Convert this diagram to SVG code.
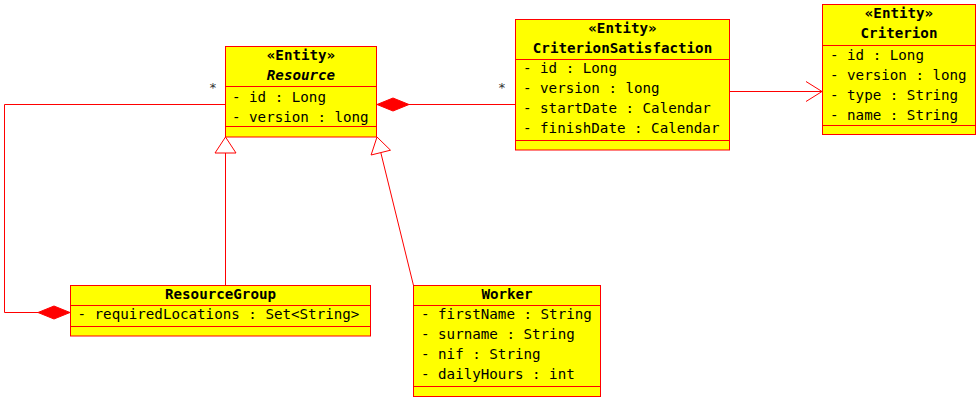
<svg xmlns="http://www.w3.org/2000/svg" width="979" height="402" viewBox="0 0 979 402">
<style>
.box{fill:#ffff00;stroke:#ff0000;stroke-width:1}
.sep{stroke:#ff0000;stroke-width:1}
text{font-family:"DejaVu Sans Mono","Liberation Mono",monospace;font-size:14.2px;fill:#000}
.t{font-weight:bold;text-anchor:middle}
.ti{font-weight:bold;font-style:italic;text-anchor:middle}
.star{font-size:13px;text-anchor:middle;fill:#333}
.ln{fill:none;stroke:#ff0000;stroke-width:1}
.dia{fill:#ff0000;stroke:#ff0000;stroke-width:1}
.tri{fill:#fff;stroke:#ff0000;stroke-width:1}
</style>
<rect width="979" height="402" fill="#fff"/>
<g id="connectors">
<line class="ln" x1="409" y1="104.5" x2="515" y2="104.5"/>
<polygon class="dia" points="377,104.5 393,98 409,104.5 393,111"/>
<text class="star" x="502" y="92">*</text>
<polyline class="ln" points="225,104.5 4.5,104.5 4.5,312.5 38,312.5"/>
<polygon class="dia" points="70,312.5 54,306 38,312.5 54,319"/>
<text class="star" x="213" y="92">*</text>
<line class="ln" x1="729.5" y1="91.5" x2="822" y2="91.5"/>
<polyline class="ln" points="806,81.5 822,91.5 806,101.5"/>
<line class="ln" x1="225.5" y1="153" x2="225.5" y2="285.5"/>
<polygon class="tri" points="225.5,137 236,153 215,153"/>
<line class="ln" x1="380.8" y1="152.6" x2="413.5" y2="285.5"/>
<polygon class="tri" points="377,137 390.5,150.2 371.1,155"/>
</g>
<g id="Resource">
<rect class="box" x="225.5" y="46.5" width="151" height="90.5"/>
<line class="sep" x1="225.5" y1="86.5" x2="376.5" y2="86.5"/>
<line class="sep" x1="225.5" y1="126.5" x2="376.5" y2="126.5"/>
<text class="t" x="301" y="60">«Entity»</text>
<text class="ti" x="301" y="80">Resource</text>
<text x="232" y="102">- id : Long</text>
<text x="232" y="122">- version : long</text>
</g>
<g id="CriterionSatisfaction">
<rect class="box" x="515.5" y="19.5" width="214" height="130.5"/>
<line class="sep" x1="515.5" y1="59.5" x2="729.5" y2="59.5"/>
<line class="sep" x1="515.5" y1="140.5" x2="729.5" y2="140.5"/>
<text class="t" x="622.5" y="33">«Entity»</text>
<text class="t" x="622.5" y="53">CriterionSatisfaction</text>
<text x="523" y="73">- id : Long</text>
<text x="523" y="93">- version : long</text>
<text x="523" y="113">- startDate : Calendar</text>
<text x="523" y="133">- finishDate : Calendar</text>
</g>
<g id="Criterion">
<rect class="box" x="822.5" y="4.5" width="153" height="130"/>
<line class="sep" x1="822.5" y1="45.5" x2="975.5" y2="45.5"/>
<line class="sep" x1="822.5" y1="125.5" x2="975.5" y2="125.5"/>
<text class="t" x="899" y="18">«Entity»</text>
<text class="t" x="899" y="38">Criterion</text>
<text x="830" y="60">- id : Long</text>
<text x="830" y="80">- version : long</text>
<text x="830" y="100">- type : String</text>
<text x="830" y="120">- name : String</text>
</g>
<g id="ResourceGroup">
<rect class="box" x="70.5" y="285.5" width="300" height="50.5"/>
<line class="sep" x1="70.5" y1="305.5" x2="370.5" y2="305.5"/>
<line class="sep" x1="70.5" y1="326.5" x2="370.5" y2="326.5"/>
<text class="t" x="220.5" y="299">ResourceGroup</text>
<text x="77.5" y="319">- requiredLocations : Set&lt;String&gt;</text>
</g>
<g id="Worker">
<rect class="box" x="413.5" y="285.5" width="187" height="111"/>
<line class="sep" x1="413.5" y1="305.5" x2="600.5" y2="305.5"/>
<line class="sep" x1="413.5" y1="386.5" x2="600.5" y2="386.5"/>
<text class="t" x="507" y="299">Worker</text>
<text x="421" y="319">- firstName : String</text>
<text x="421" y="339">- surname : String</text>
<text x="421" y="359">- nif : String</text>
<text x="421" y="379">- dailyHours : int</text>
</g>
</svg>
